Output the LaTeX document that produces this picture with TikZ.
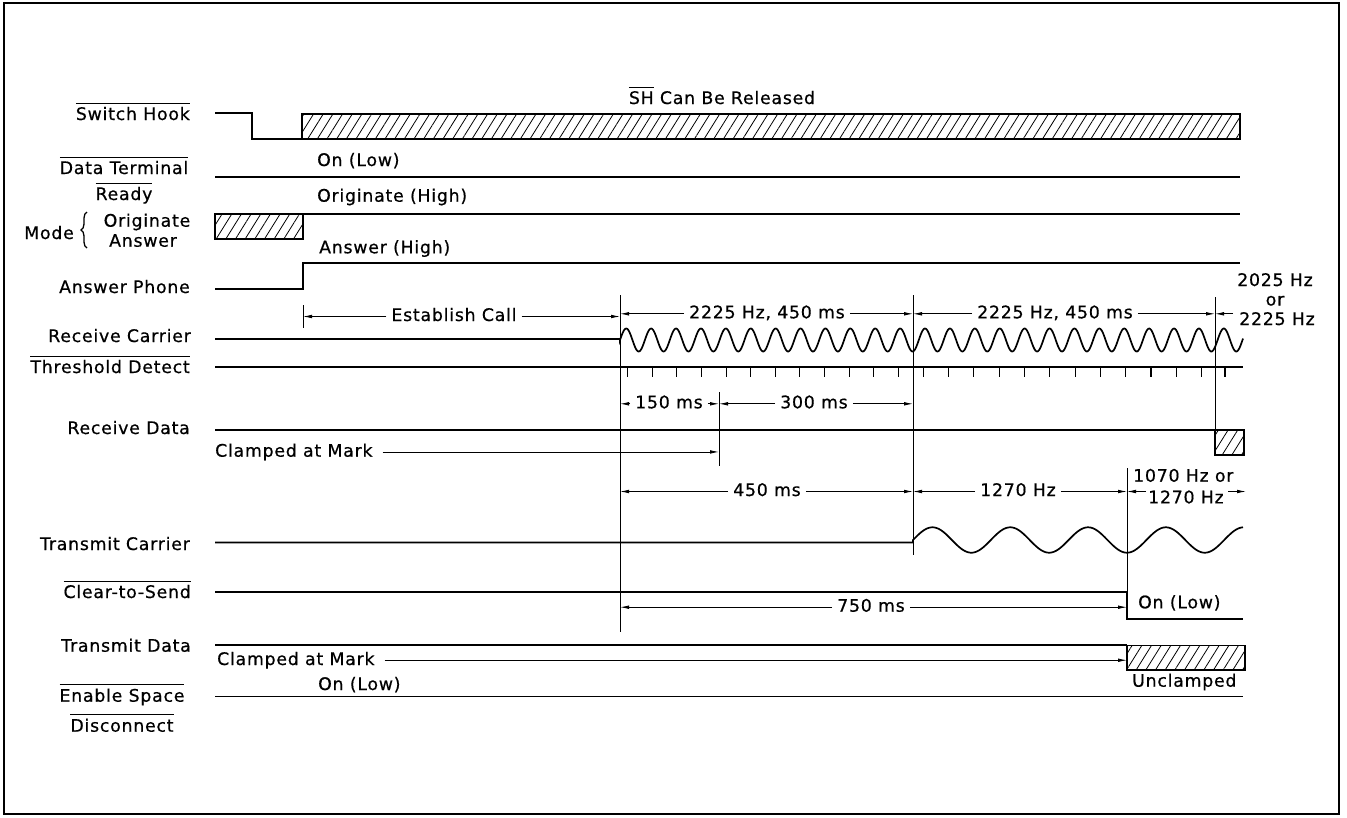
\documentclass[tikz,border=0pt]{standalone}
\usepackage{fontspec}
\setmainfont[LetterSpace=4.5,FakeBold=0.6]{DejaVu Sans}
\usetikzlibrary{arrows.meta,patterns.meta,decorations.pathreplacing}
\newcommand\olbar[1]{\vbox{\hrule height 1.1pt\kern 3.2pt\hbox{#1}}}
\begin{document}
\begin{tikzpicture}[x=1pt,y=-1pt,
  every node/.style={font=\fontsize{17.3}{19}\selectfont},
  sig/.style={line width=1.7pt},
  thinl/.style={line width=0.8pt},
  tick/.style={line width=1.1pt},
  dim/.style={line width=0.8pt,-{Latex[length=9pt,width=3.6pt]}},
  lbl/.style={anchor=base east, inner sep=0pt},
  cbl/.style={anchor=base, inner sep=0pt},
  txt/.style={anchor=base west, inner sep=0pt},
  dl/.style={anchor=base, inner xsep=5pt, inner ysep=0pt, text height=9pt, text depth=0pt},
  hatch/.style={line width=1.7pt, pattern={Lines[angle=58,distance=8.2pt,line width=0.8pt]}}]
\useasboundingbox (0,0) rectangle (1347,817);
\draw[line width=1.2pt] (4,3) rectangle (1339,814);

% timing markers
\coordinate (t0) at (303,0);
\coordinate (t1) at (620,0);
\coordinate (t2) at (719,0);
\coordinate (t3) at (913,0);
\coordinate (t4) at (1127,0);
\coordinate (t5) at (1215,0);

% left labels
\node[lbl] (lsh) at (190,120) {\olbar{Switch Hook}};
\node[cbl] (ldt) at (124,174) {\olbar{Data Terminal}};
\node[cbl] (lrd) at (124,200) {\olbar{Ready}};
\node[lbl] (lmode) at (74,239) {Mode};
\node[cbl] (lorig) at (147,226.7) {Originate};
\node[cbl] (lans) at (143,246.7) {Answer};
\draw[line width=1.3pt,decorate,decoration={brace,amplitude=6pt}] (87,248) -- (87,212);
\node[lbl] (lap) at (190,293) {Answer Phone};
\node[lbl] (lrc) at (191,342) {Receive Carrier};
\node[lbl] (ltd) at (190,373) {\olbar{Threshold Detect}};
\node[lbl] (lrx) at (190,434) {Receive Data};
\node[lbl] (ltc) at (190,550) {Transmit Carrier};
\node[lbl] (lcs) at (191,598) {\olbar{Clear-to-Send}};
\node[lbl] (ltx) at (191,651.7) {Transmit Data};
\node[cbl] (les) at (122,701.7) {\olbar{Enable Space}};
\node[cbl] (ldc) at (122,731.7) {\olbar{Disconnect}};

% Switch hook
\draw[sig] (215,113) -- (252,113) -- (252,139) -- (302,139);
\draw[hatch] (302,114) rectangle (1240,139);
\node[cbl] (shr) at (722,104) {\olbar{SH} Can Be Released};

% Data terminal ready
\draw[sig] (215,177) -- (1240,177);
\node[txt] (dtron) at (317,166) {On (Low)};

% Mode
\draw[hatch] (215,214) rectangle (303,239);
\draw[sig] (303,214) -- (1240,214);
\node[txt] (orh) at (317,201.7) {Originate (High)};

% Answer phone
\draw[sig] (215,289) -- (303,289) -- (303,263) -- (1240,263);
\node[txt] (anh) at (319,253.3) {Answer (High)};

% vertical markers
\draw[thinl] (303,305) -- (303,328);
\draw[thinl] (620,295) -- (620,632);
\draw[thinl] (719,392) -- (719,466);
\draw[thinl] (913,295) -- (913,555);
\draw[thinl] (1215,297) -- (1215,430);
\draw[thinl] (1127,468) -- (1127,592);

% Receive carrier
\draw[sig] (215,339) -- (620,339) -- plot[domain=620:1243,samples=700] (\x,{340-11.5*sin((\x-620)/24.9*360)});

% Threshold detect
\draw[sig] (215,367) -- (1243,367);
\foreach \k in {0,...,11} {
  \draw[tick] ({627.7+24.6*\k},367) -- ++(0,10);
  \draw[tick] ({923.3+25.3*\k},367) -- ++(0,10);
}
\draw[tick] (1225,367) -- ++(0,10);

% Receive data
\draw[sig] (215,430) -- (1215,430);
\draw[hatch] (1215,430) rectangle (1244,455);
\node[txt] (cm1) at (215,456.7) {Clamped at Mark};
\draw[dim] ([xshift=10pt]cm1.east) -- (cm1.east -| t2);

% Transmit carrier
\draw[sig] (215,542.5) -- (913,542.5) -- plot[domain=913:1243,samples=300] (\x,{540-12.7*sin((\x-913)/77.8*360)});

% Clear to send
\draw[sig] (215,592) -- (1127,592) -- (1127,619) -- (1243,619);
\node[txt] (cson) at (1138,608.3) {On (Low)};

% Transmit data
\draw[sig] (215,645) -- (1127,645);
\draw[hatch] (1127,645.5) rectangle (1245,670);
\node[txt] (cm2) at (217,665) {Clamped at Mark};
\draw[dim] ([xshift=10pt]cm2.east) -- (cm2.east -| t4);
\node[txt] (uncl) at (1132,686.7) {Unclamped};

% Enable space disconnect
\draw[sig] (215,696.5) -- (1243,696.5);
\node[txt] (eson) at (318,690) {On (Low)};

% dimension labels
\node[dl] (ec) at (454,321) {Establish Call};
\draw[dim] (ec.west) -- (ec.west -| t0);
\draw[dim] (ec.east) -- (ec.east -| t1);

\node[dl] (f1) at (767,318.3) {2225 Hz, 450 ms};
\draw[dim] (f1.west) -- (f1.west -| t1);
\draw[dim] (f1.east) -- (f1.east -| t3);

\node[dl] (f2) at (1055,318.3) {2225 Hz, 450 ms};
\draw[dim] (f2.west) -- (f2.west -| t3);
\draw[dim] (f2.east) -- (f2.east -| t5);

\node[cbl] (fa) at (1275,286) {2025 Hz};
\node[cbl] (fb) at (1275,305.5) {or};
\node[cbl] (fc) at (1277,325) {2225 Hz};
\coordinate (fcl) at (1233,0);
\draw[dim] (f2.east -| fcl) -- (f2.east -| t5);

\node[dl] (m150) at (669,408.3) {150 ms};
\draw[dim] (m150.west) -- (m150.west -| t1);
\draw[dim] (m150.east) -- (m150.east -| t2);

\node[dl] (m300) at (814,408.3) {300 ms};
\draw[dim] (m300.west) -- (m300.west -| t2);
\draw[dim] (m300.east) -- (m300.east -| t3);

\node[dl] (m450) at (767,496) {450 ms};
\draw[dim] (m450.west) -- (m450.west -| t1);
\draw[dim] (m450.east) -- (m450.east -| t3);

\node[dl] (m1270) at (1018,496) {1270 Hz};
\draw[dim] (m1270.west) -- (m1270.west -| t3);
\draw[dim] (m1270.east) -- (m1270.east -| t4);

\node[txt] (ra) at (1133,481.7) {1070 Hz or};
\node[txt] (rb) at (1148,503.3) {1270 Hz};
\coordinate (r1a) at (1146,0);
\coordinate (r1b) at (1228,0);
\coordinate (r1c) at (1246,0);
\draw[dim] (m1270.east -| r1a) -- (m1270.east -| t4);
\draw[dim] (m1270.east -| r1b) -- (m1270.east -| r1c);

\node[dl] (m750) at (871,611.7) {750 ms};
\draw[dim] (m750.west) -- (m750.west -| t1);
\draw[dim] (m750.east) -- (m750.east -| t4);
\end{tikzpicture}
\end{document}
